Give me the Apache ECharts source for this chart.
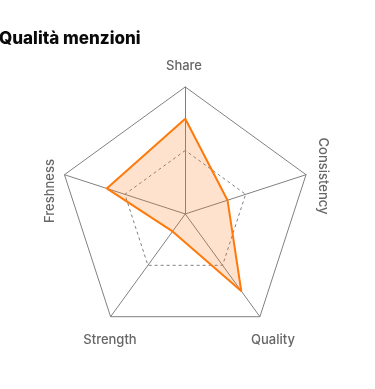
<!DOCTYPE html>
<html>
<head>
<meta charset="utf-8">
<script src="https://cdn.jsdelivr.net/npm/echarts@6/dist/echarts.min.js"></script>
<style>html,body{margin:0;padding:0;background:#fff;}#c{width:375px;height:389px;}</style>
</head>
<body>
<div id="c"></div>
<script>
const title = 'Qualità menzioni';
const indicators = ['Share', 'Freshness', 'Strength', 'Quality', 'Consistency'];
const maxValue = 100;
const mentionValues = [75, 65, 17, 75, 35];
const referenceValues = [50, 50, 50, 50, 50];

const chart = echarts.init(document.getElementById('c'), null, {renderer: 'canvas'});
const labelFont = {fontFamily: 'Inter', fontSize: 13, fontWeight: 500, fill: '#666666'};
chart.setOption({
  animation: false,
  title: {
    text: title, left: -1, top: 30, padding: 0,
    textStyle: {fontFamily: 'Inter', fontSize: 17, fontWeight: 800, color: '#0a0a0a'}
  },
  radar: {
    center: ['49.4%', '55%'],
    radius: 127,
    startAngle: 90,
    splitNumber: 1,
    shape: 'polygon',
    indicator: indicators.map(n => ({name: n, max: maxValue, min: 0})),
    axisName: {show: false},
    axisLine: {lineStyle: {color: '#808080', width: 1}},
    splitLine: {lineStyle: {color: '#808080', width: 1}},
    splitArea: {show: false},
    axisTick: {show: false},
    axisLabel: {show: false}
  },
  series: [{
    type: 'radar',
    symbol: 'none',
    z: 2,
    data: [
      {value: referenceValues, name: 'ref',
       lineStyle: {color: '#808080', width: 1, type: [3, 3]},
       areaStyle: {opacity: 0}},
      {value: mentionValues, name: 'mentions',
       lineStyle: {color: '#ff7a0a', width: 2},
       areaStyle: {color: 'rgba(250,120,20,0.3)'}}
    ]
  }],
  graphic: [
    {type: 'text', x: 184, y: 66, style: Object.assign({text: indicators[0], align: 'center', verticalAlign: 'middle'}, labelFont)},
    {type: 'text', x: 50, y: 191, rotation: Math.PI / 2, style: Object.assign({text: indicators[1], align: 'center', verticalAlign: 'middle'}, labelFont)},
    {type: 'text', x: 110, y: 340, style: Object.assign({text: indicators[2], align: 'center', verticalAlign: 'middle'}, labelFont)},
    {type: 'text', x: 273, y: 340, style: Object.assign({text: indicators[3], align: 'center', verticalAlign: 'middle'}, labelFont)},
    {type: 'text', x: 323, y: 176, rotation: -Math.PI / 2, style: Object.assign({text: indicators[4], align: 'center', verticalAlign: 'middle'}, labelFont)}
  ]
});
</script>
</body>
</html>
